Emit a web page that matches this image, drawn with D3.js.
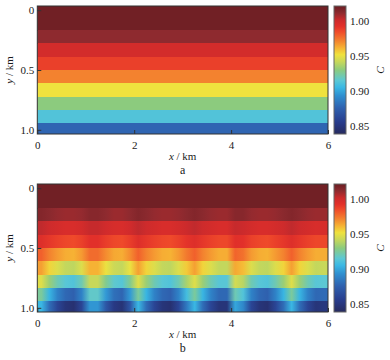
<!DOCTYPE html>
<html>
<head>
<meta charset="utf-8">
<script src="https://cdn.jsdelivr.net/npm/d3@7"></script>
<style>
  body { margin: 0; background: #fff; }
  svg { display: block; }
  svg text { font-family: "Liberation Serif", "Times New Roman", serif !important; fill: #1a1a1a; }
</style>
</head>
<body>
<svg id="chart"></svg>
<script>
// tick labels
const xTicks = [0, 2, 4, 6]
const yTicks = [0, 0.5, 1.0]
const cTicks = [0.85, 0.90, 0.95, 1.00]

// depth of every model row (km)
const rowDepths = [0, 0.111, 0.222, 0.333, 0.444, 0.556, 0.667, 0.778, 0.889, 1.0]

// panel a: one value per row (layered model)
const valuesA = [1.02, 1.02, 1.012, 0.999, 0.988, 0.972, 0.952, 0.930, 0.912, 0.877]

// panel b: 36 columns per row (dx = 1/6 km)
const valuesB = [
  [1.02,1.02,1.02,1.02,1.02,1.02,1.02,1.02,1.02,1.02,1.02,1.02,1.02,1.02,1.02,1.02,1.02,1.02,1.02,1.02,1.02,1.02,1.02,1.02,1.02,1.02,1.02,1.02,1.02,1.02,1.02,1.02,1.02,1.02,1.02,1.02],
  [1.02,1.02,1.02,1.02,1.02,1.02,1.02,1.02,1.02,1.02,1.02,1.02,1.02,1.02,1.02,1.02,1.02,1.02,1.02,1.02,1.02,1.02,1.02,1.02,1.02,1.02,1.02,1.02,1.02,1.02,1.02,1.02,1.02,1.02,1.02,1.02],
  [1.015,1.013,1.011,1.010,1.010,1.011,1.014,1.014,1.012,1.010,1.010,1.012,1.015,1.013,1.011,1.010,1.010,1.011,1.013,1.015,1.013,1.011,1.010,1.010,1.014,1.014,1.011,1.010,1.010,1.011,1.013,1.015,1.013,1.011,1.010,1.010],
  [1.004,1.001,0.999,0.997,0.997,0.999,1.003,1.003,1.000,0.998,0.997,1.000,1.004,1.001,0.999,0.997,0.997,0.999,1.002,1.004,1.001,0.999,0.997,0.997,1.003,1.002,0.999,0.997,0.997,0.999,1.001,1.004,1.001,0.999,0.997,0.998],
  [0.995,0.991,0.988,0.986,0.985,0.988,0.993,0.993,0.989,0.986,0.985,0.989,0.995,0.991,0.988,0.986,0.985,0.988,0.992,0.995,0.991,0.988,0.986,0.986,0.994,0.993,0.988,0.986,0.985,0.988,0.991,0.995,0.991,0.988,0.986,0.986],
  [0.980,0.972,0.967,0.963,0.962,0.967,0.977,0.977,0.970,0.964,0.963,0.970,0.980,0.972,0.967,0.963,0.962,0.967,0.974,0.980,0.972,0.967,0.963,0.963,0.979,0.976,0.967,0.963,0.962,0.967,0.972,0.980,0.972,0.967,0.963,0.963],
  [0.966,0.955,0.947,0.941,0.940,0.947,0.962,0.962,0.951,0.943,0.941,0.951,0.966,0.955,0.947,0.941,0.940,0.947,0.957,0.966,0.955,0.947,0.941,0.941,0.964,0.960,0.947,0.941,0.940,0.947,0.955,0.966,0.955,0.947,0.941,0.942],
  [0.948,0.933,0.921,0.914,0.912,0.921,0.942,0.942,0.927,0.916,0.913,0.927,0.948,0.933,0.921,0.914,0.912,0.921,0.936,0.948,0.933,0.921,0.914,0.914,0.945,0.939,0.921,0.914,0.912,0.921,0.933,0.948,0.933,0.921,0.914,0.915],
  [0.925,0.904,0.888,0.878,0.875,0.888,0.917,0.917,0.896,0.881,0.877,0.896,0.925,0.904,0.888,0.878,0.875,0.888,0.908,0.925,0.904,0.888,0.878,0.878,0.921,0.912,0.888,0.878,0.875,0.888,0.904,0.925,0.904,0.888,0.878,0.879],
  [0.905,0.880,0.860,0.848,0.845,0.860,0.895,0.895,0.870,0.852,0.847,0.870,0.905,0.880,0.860,0.848,0.845,0.860,0.885,0.905,0.880,0.860,0.848,0.848,0.900,0.890,0.860,0.848,0.845,0.860,0.880,0.905,0.880,0.860,0.848,0.850]
]

// colour map (value -> colour)
const cmapStops = [0.838, 0.855, 0.875, 0.893, 0.905, 0.915, 0.930, 0.942, 0.952, 0.962, 0.972, 0.985, 0.993, 1.002, 1.012, 1.022]
const cmapColors = ['#262a5e','#283c8c','#2f60ae','#2f8fd0','#3ab8e4','#5cc8d4','#8ccb7e','#c8d85a',
                    '#efe23e','#f6b234','#f3822f','#ef4a2a','#e2302a','#cc2a2c','#8e2a2f','#6a1d22']

const width = 390, height = 360
const plot = {left: 37.3, right: 328, h: 128}
const panels = [{top: 6, name: 'a'}, {top: 184, name: 'b'}]
const cbar = {left: 334, w: 12}
const serif = '"Liberation Serif", "Times New Roman", serif'

const svg = d3.select('#chart').attr('width', width).attr('height', height)
const defs = svg.append('defs')

const color = d3.scaleLinear().domain(cmapStops).range(cmapColors).interpolate(d3.interpolateRgb).clamp(true)
const x = d3.scaleLinear().domain([0, 6]).range([plot.left, plot.right])
const xCol = d3.scaleBand().domain(d3.range(valuesB[0].length)).range([plot.left, plot.right])
const half = (rowDepths[1] - rowDepths[0]) / 2

// gradient for the colour bar
const grad = defs.append('linearGradient').attr('id', 'cgrad')
  .attr('x1', 0).attr('y1', 1).attr('x2', 0).attr('y2', 0)
grad.selectAll('stop').data(cmapStops).join('stop')
  .attr('offset', d => (d - cmapStops[0]) / (cmapStops[cmapStops.length - 1] - cmapStops[0]))
  .attr('stop-color', d => color(d))

// one horizontal gradient per row of panel b, stops at the column centres
valuesB.forEach((row, r) => {
  const lg = defs.append('linearGradient').attr('id', 'row' + r)
    .attr('gradientUnits', 'userSpaceOnUse')
    .attr('x1', plot.left).attr('x2', plot.right).attr('y1', 0).attr('y2', 0)
  lg.selectAll('stop').data(row).join('stop')
    .attr('offset', (d, c) => (xCol(c) + xCol.bandwidth() / 2 - plot.left) / (plot.right - plot.left))
    .attr('stop-color', d => color(d))
})

panels.forEach((p, i) => {
  const y = d3.scaleLinear().domain([-0.035, 1.035]).range([p.top, p.top + plot.h])
  const cy = d3.scaleLinear().domain([0.838, 1.022]).range([p.top + plot.h, p.top])

  defs.append('clipPath').attr('id', 'clip' + i)
    .append('rect').attr('x', plot.left).attr('y', p.top).attr('width', plot.right - plot.left).attr('height', plot.h)

  const g = svg.append('g')
  const cells = g.append('g').attr('clip-path', `url(#clip${i})`).attr('shape-rendering', 'crispEdges')

  const rowRect = sel => sel
    .attr('x', plot.left).attr('width', plot.right - plot.left)
    .attr('y', (d, r) => y(rowDepths[r] - half))
    .attr('height', (d, r) => y(rowDepths[r] + half) - y(rowDepths[r] - half) + 0.5)

  if (i === 0) {
    cells.selectAll('rect').data(valuesA).join('rect').call(rowRect)
      .attr('fill', d => color(d))
  } else {
    cells.selectAll('rect').data(valuesB).join('rect').call(rowRect)
      .attr('fill', (d, r) => `url(#row${r})`)
  }

  // frame
  g.append('rect').attr('x', plot.left).attr('y', p.top)
    .attr('width', plot.right - plot.left).attr('height', plot.h)
    .attr('fill', 'none').attr('stroke', '#333').attr('stroke-width', 1)

  // axes
  const yAxis = d3.axisLeft(y).tickValues(yTicks).tickSize(-4).tickPadding(3)
    .tickFormat(d => d === 0 ? '0' : d3.format('.1f')(d))
  const gy = g.append('g').attr('transform', `translate(${plot.left},0)`).call(yAxis)
  const xAxis = d3.axisBottom(x).tickValues(xTicks).tickSize(-4).tickPadding(7).tickFormat(d3.format('d'))
  const gx = g.append('g').attr('transform', `translate(0,${p.top + plot.h})`).call(xAxis)
  ;[gx, gy].forEach(a => {
    a.attr('font-family', serif)
    a.select('.domain').remove()
    a.selectAll('line').attr('stroke', '#333')
    a.selectAll('text').attr('font-size', 11).style('font-family', serif).attr('fill', '#1a1a1a')
  })

  // axis titles
  const yl = g.append('text').attr('transform', `translate(13,${y(0.5)}) rotate(-90)`)
    .attr('text-anchor', 'middle').attr('font-size', 11).style('font-family', serif)
  yl.append('tspan').attr('font-style', 'italic').text('y')
  yl.append('tspan').text(' / km')

  const xl = g.append('text').attr('x', (plot.left + plot.right) / 2).attr('y', p.top + plot.h + 25.5)
    .attr('text-anchor', 'middle').attr('font-size', 11).style('font-family', serif)
  xl.append('tspan').attr('font-style', 'italic').text('x')
  xl.append('tspan').text(' / km')

  g.append('text').attr('x', (plot.left + plot.right) / 2).attr('y', p.top + plot.h + 40)
    .attr('text-anchor', 'middle').attr('font-size', 12).style('font-family', serif).text(p.name)

  // colour bar
  g.append('rect').attr('x', cbar.left).attr('y', p.top).attr('width', cbar.w).attr('height', plot.h)
    .attr('fill', 'url(#cgrad)').attr('stroke', '#666').attr('stroke-width', 1)
  const cAxis = d3.axisRight(cy).tickValues(cTicks).tickSize(0).tickPadding(4).tickFormat(d3.format('.2f'))
  const gc = g.append('g').attr('transform', `translate(${cbar.left + cbar.w},0)`).call(cAxis)
  gc.attr('font-family', serif)
  gc.select('.domain').remove()
  gc.selectAll('text').attr('font-size', 11).style('font-family', serif).attr('fill', '#1a1a1a')

  g.append('text').attr('transform', `translate(384,${p.top + plot.h / 2}) rotate(-90)`)
    .attr('text-anchor', 'middle').attr('font-size', 11).attr('font-style', 'italic')
    .style('font-family', serif).text('C')
})
</script>
</body>
</html>
